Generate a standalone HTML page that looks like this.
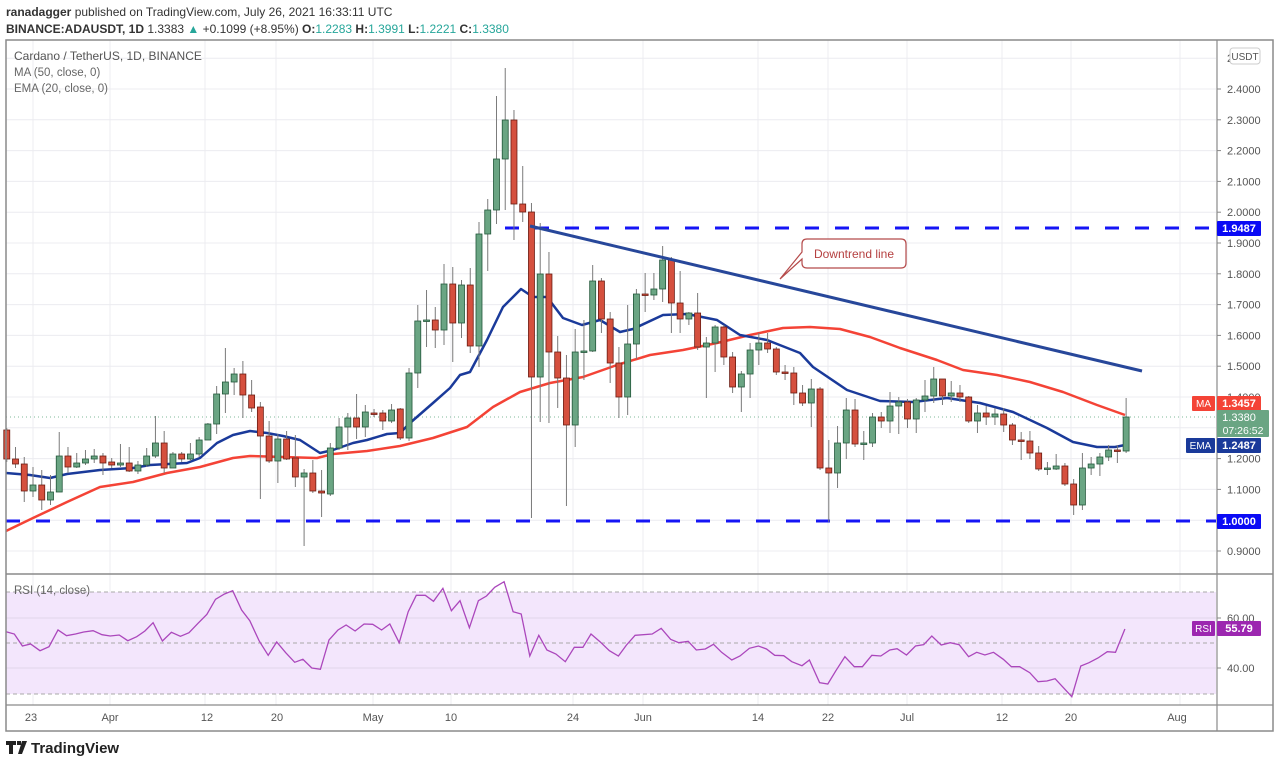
<!DOCTYPE html>
<html><head><meta charset="utf-8"><style>
body{margin:0;background:#fff;width:1280px;height:765px;overflow:hidden;font-family:"Liberation Sans",sans-serif}
svg{position:absolute;left:0;top:0}
</style></head><body>
<svg id="s" width="1280" height="765" xmlns="http://www.w3.org/2000/svg" font-family="Liberation Sans, sans-serif"></svg>
<script>
const C=[
[430,459,428,462],[459,464,447,468],[464,491,457,502],[491,485,467,497],[485,500,470,510],[500,492,475,505],[492,456,432,492],[456,467,447,473],[467,463,453,468],[463,459,450,465],[459,456,449,463],[456,463,453,475],[462,465,458,468],[465,463,444,467],[463,471,447,472],[471,465,461,474],[465,456,448,467],[456,443,416,458],[443,468,431,473],[468,454,452,468],[454,459,452,462],[459,454,443,461],[454,440,437,457],[440,424,423,440],[424,394,386,434],[394,382,348,413],[382,374,368,395],[374,395,361,418],[395,408,380,412],[407,436,402,499],[436,461,421,463],[461,439,434,483],[439,459,431,460],[458,477,435,487],[477,473,469,546],[473,491,460,493],[491,493,470,517],[494,448,443,496],[448,427,418,450],[427,418,413,450],[418,427,394,439],[427,412,405,437],[413,414,409,417],[413,421,410,430],[421,410,404,423],[409,438,408,440],[438,373,368,441],
[373,321,305,388],[321,320,290,347],[320,330,307,348],[330,284,264,345],[284,323,267,362],[323,285,280,338],[285,346,268,353],[346,234,222,367],[234,210,199,271],[210,159,96,224],[159,120,68,210],[120,204,110,240],[204,212,166,222],[212,377,203,518],[377,274,223,422],[274,352,252,423],[352,378,336,408],[378,425,355,506],[425,352,329,447],[352,351,320,380],[351,281,265,352],[281,319,278,333],[319,363,312,383],[363,397,347,418],[397,344,305,415],[344,294,289,359],[294,295,273,312],[295,289,273,300],[289,260,246,302],[260,303,257,333],[303,319,271,333],[319,313,312,325],[313,347,293,350],[347,343,337,398],[343,327,325,372],[327,357,325,365],[357,387,352,393],[387,374,371,412],[374,350,343,398],[350,343,333,365],[343,349,333,353],[349,372,347,375],[372,373,365,380],[373,393,367,405],
[393,403,385,406],[403,389,379,427],[389,468,387,470],[468,473,440,522],[473,443,426,488],[443,410,398,459],[410,444,399,447],[444,443,431,460],[443,417,413,447],[417,421,412,428],[421,406,392,433],[406,402,397,434],[402,419,399,428],[419,400,398,433],[400,396,380,412],[396,379,367,403],[379,396,379,405],[396,393,381,402],[393,397,385,402],[397,421,396,423],[421,413,405,433],[413,417,406,425],[417,414,408,425],[414,425,408,432],[425,440,423,445],[440,441,432,460],[441,453,431,459],[453,469,446,471],[469,468,462,475],[469,466,454,470],[466,484,463,486],[484,505,479,515],[505,468,453,510],[468,464,457,475],[464,457,453,476],[457,450,445,461],[450,451,445,463],[451,417,398,453]];
const X=i=>33+(i-3)*8.745;
let s='';
// grid
const vx=[33,110,205,276,373,451,573,643,758,828,907,1002,1071,1180];
for(const x of vx) s+=`<line x1="${x}" y1="40" x2="${x}" y2="705" stroke="#ececf0" stroke-width="1"/>`;
for(let k=0;k<17;k++){const y=58.2+30.8*k;if(y>572)break;s+=`<line x1="6" y1="${y}" x2="1216" y2="${y}" stroke="#ececf0"/>`;}
// RSI band
s+=`<rect x="6" y="592" width="1210" height="102" fill="#f3e6fc"/>`;
s+=`<line x1="6" y1="618" x2="1216" y2="618" stroke="#e2d6ea"/><line x1="6" y1="668" x2="1216" y2="668" stroke="#e2d6ea"/>`;
for(const y of [592,643,694]) s+=`<line x1="6" y1="${y}" x2="1216" y2="${y}" stroke="#a8a8a8" stroke-dasharray="4 3"/>`;
// dashed levels
s+=`<line x1="505" y1="228" x2="1216" y2="228" stroke="#1515f5" stroke-width="3" stroke-dasharray="14 16"/>`;
s+=`<line x1="6" y1="521" x2="1216" y2="521" stroke="#1515f5" stroke-width="3" stroke-dasharray="14 16"/>`;
// last price dotted
s+=`<line x1="6" y1="417" x2="1216" y2="417" stroke="#7fb89a" stroke-dasharray="1 3"/>`;
// MA line
const ma=[[6,531],[33,518],[50,510],[67,502],[100,487],[133,482],[167,473],[200,467],[233,458],[250,456],[283,457],[317,458],[333,454],[367,451],[400,446],[433,438],[467,427],[493,407],[520,392],[550,383],[583,377],[617,365],[650,355],[683,350],[717,343],[750,335],[783,328],[810,327],[840,329],[870,337],[900,348],[937,360],[963,370],[997,375],[1030,382],[1063,392],[1097,405],[1125,415]];
s+=`<polyline points="${ma.map(p=>p.join(',')).join(' ')}" fill="none" stroke="#f44336" stroke-width="2.5" stroke-linejoin="round"/>`;
const ema=[[6,473],[30,475],[50,478],[67,474],[100,470],[133,468],[150,465],[187,463],[200,458],[217,443],[233,435],[250,431],[267,433],[283,436],[300,440],[320,453],[333,450],[353,443],[367,440],[387,434],[400,433],[410,423],[433,403],[450,388],[460,375],[470,372],[487,340],[503,307],[521,289],[533,297],[547,297],[563,318],[582,325],[600,320],[620,332],[633,329],[663,315],[687,314],[717,320],[740,335],[767,340],[800,353],[813,367],[847,390],[880,401],[913,402],[947,398],[980,403],[1013,412],[1047,428],[1073,442],[1097,447],[1115,447],[1125,445]];
s+=`<polyline points="${ema.map(p=>p.join(',')).join(' ')}" fill="none" stroke="#1a3a9a" stroke-width="2.5" stroke-linejoin="round"/>`;
// candles
C.forEach((c,i)=>{const x=X(i);const[o,cl,h,l]=c;const up=cl<=o;
s+=`<line x1="${x}" y1="${h}" x2="${x}" y2="${l}" stroke="#7a7a7a"/>`;
const t=Math.min(o,cl),b=Math.max(Math.abs(o-cl),1.5);
s+=`<rect x="${x-3}" y="${t}" width="6" height="${b}" fill="${up?'#6aa583':'#d5503e'}" stroke="${up?'#22573a':'#6b1c12'}" stroke-width="0.8"/>`;});
// downtrend
s+=`<line x1="530" y1="226" x2="1142" y2="371" stroke="#27479a" stroke-width="3"/>`;
// annotation
s+=`<path d="M807 239 H901 Q906 239 906 244 V263 Q906 268 901 268 H807 Q802 268 802 263 V259 L780 279 L802 252 V244 Q802 239 807 239Z" fill="#fff" stroke="#b54a4a" stroke-width="1.2"/>`;
s+=`<text x="854" y="258" font-size="12" fill="#b54040" text-anchor="middle">Downtrend line</text>`;
// RSI line
const r6=[[15,185],[35,192],[55,228],[75,222],[98,242],[120,230],[142,180],[163,197],[185,192],[205,186],[228,182],[250,194],[270,198],[292,195],[313,212],[335,200],[355,183],[375,158],[398,213],[420,187],[442,199],[463,188],[485,160],[507,133],[528,88],[550,72],[570,62],[592,120],[612,152],[635,213],[657,256],[678,216],[700,248],[722,277],[742,268],[764,294],[785,298],[806,210],[828,180],[848,165],[870,183],[892,162],[913,163],[935,180],[955,162],[978,218],[1000,125],[1020,76],[1042,76],[1062,94],[1085,55],[1106,122],[1127,92],[1150,173],[1172,92],[1192,78],[1212,52],[1235,35],[1257,125],[1277,132],[1298,258],[1320,196],[1340,240],[1362,252],[1385,275],[1407,232],[1428,232],[1448,192],[1470,215],[1493,242],[1515,258],[1535,225],[1556,196]];
const r7=[[30,192],[52,175],[75,208],[95,218],[118,214],[138,240],[160,237],[180,223],[200,247],[225,270],[245,258],[268,235],[290,228],[310,237],[330,256],[352,257],[372,275],[397,287],[415,270],[440,338],[460,342],[480,302],[502,260],[525,290],[545,290],[568,256],[590,258],[612,240],[630,236],[653,255],[675,228],[695,224],[715,198],[738,225],[760,218],[782,224],[805,260],[825,247],[845,255],[866,247],[890,268],[910,290],[930,290],[955,308],[975,335],[997,333],[1017,326],[1058,380],[1080,288],[1100,278],[1122,264],[1145,245],[1165,247],[1188,177]];
const rp=r6.map(p=>[p[0]/2.45,570+p[1]/3]).concat(r7.map(p=>[640+p[0]/2.45,570+p[1]/3]));
s+=`<polyline points="${rp.map(p=>p[0].toFixed(1)+','+p[1].toFixed(1)).join(' ')}" fill="none" stroke="#ab47bc" stroke-width="1.3"/>`;
// frame
s+=`<rect x="6" y="40" width="1267" height="691" fill="none" stroke="#8a8a8a" stroke-width="1.5"/>`;
s+=`<line x1="1217" y1="40" x2="1217" y2="731" stroke="#8a8a8a" stroke-width="1.2"/>`;
s+=`<line x1="6" y1="574" x2="1273" y2="574" stroke="#8a8a8a" stroke-width="1.5"/>`;
s+=`<line x1="6" y1="705" x2="1273" y2="705" stroke="#8a8a8a" stroke-width="1.2"/>`;
// price axis
for(let k=1;k<17;k++){const p=2.5-0.1*k,y=58.2+30.8*k;if(y>560)break;s+=`<line x1="1217" y1="${y}" x2="1221" y2="${y}" stroke="#888"/><text x="1227" y="${y+4}" font-size="11" fill="#555">${p.toFixed(4)}</text>`;}
s+=`<text x="1227" y="62" font-size="11" fill="#555">2</text><rect x="1230" y="48" width="30" height="16" rx="3" fill="#fff" stroke="#ccc"/><text x="1245" y="60" font-size="10" fill="#555" text-anchor="middle">USDT</text>`;
for(const [y,t] of [[618,'60.00'],[668,'40.00']]) s+=`<line x1="1217" y1="${y}" x2="1221" y2="${y}" stroke="#888"/><text x="1227" y="${y+4}" font-size="11" fill="#555">${t}</text>`;
function lab(y,h,bg,t,name,nx){let r=`<rect x="1217" y="${y}" width="44" height="${h}" rx="1" fill="${bg}"/><text x="1239" y="${y+11}" font-size="11" font-weight="bold" fill="#fff" text-anchor="middle">${t}</text>`;if(name)r+=`<rect x="${nx}" y="${y}" width="${1215-nx}" height="${h}" rx="1" fill="${bg}"/><text x="${(nx+1215)/2}" y="${y+11}" font-size="10" fill="#fff" text-anchor="middle">${name}</text>`;return r;}
s+=lab(221,15,'#0a0af5','1.9487');
s+=lab(396,15,'#f44336','1.3457','MA',1192);
s+=`<rect x="1217" y="410" width="52" height="27" rx="1" fill="#6aa583"/><text x="1239" y="421" font-size="11" fill="#fff" text-anchor="middle">1.3380</text><text x="1243" y="434" font-size="10.5" fill="#fff" text-anchor="middle">07:26:52</text>`;
s+=lab(438,15,'#1a3a9a','1.2487','EMA',1186);
s+=lab(514,15,'#0a0af5','1.0000');
s+=lab(621,15,'#9c27b0','55.79','RSI',1192);
// time axis
const tl=[[31,'23'],[110,'Apr'],[207,'12'],[277,'20'],[373,'May'],[451,'10'],[573,'24'],[643,'Jun'],[758,'14'],[828,'22'],[907,'Jul'],[1002,'12'],[1071,'20'],[1177,'Aug']];
for(const [x,t] of tl) s+=`<text x="${x}" y="721" font-size="11" fill="#555" text-anchor="middle">${t}</text>`;
// legends
s+=`<text x="14" y="60" font-size="12" fill="#555">Cardano / TetherUS, 1D, BINANCE</text><text x="14" y="76" font-size="11.5" fill="#666">MA (50, close, 0)</text><text x="14" y="92" font-size="11.5" fill="#666">EMA (20, close, 0)</text>`;
s+=`<text x="14" y="594" font-size="11.5" fill="#666">RSI (14, close)</text>`;
// header
s+=`<text x="6" y="16" font-size="12" fill="#333"><tspan font-weight="bold">ranadagger</tspan> published on TradingView.com, July 26, 2021 16:33:11 UTC</text>`;
s+=`<text x="6" y="33" font-size="12" fill="#333"><tspan font-weight="bold">BINANCE:ADAUSDT, 1D</tspan>  1.3383 <tspan fill="#26a69a">▲</tspan> +0.1099 (+8.95%) <tspan font-weight="bold">O:</tspan><tspan fill="#26a69a">1.2283</tspan> <tspan font-weight="bold">H:</tspan><tspan fill="#26a69a">1.3991</tspan> <tspan font-weight="bold">L:</tspan><tspan fill="#26a69a">1.2221</tspan> <tspan font-weight="bold">C:</tspan><tspan fill="#26a69a">1.3380</tspan></text>`;
// logo
s+=`<path d="M6 741 h10 v4 h-3 v9 h-4 v-9 h-3z M17 741 h4 v4 h-4z M22 741 h5 l-5 13 h-4z" fill="#222"/><text x="31" y="753" font-size="15" font-weight="bold" fill="#222">TradingView</text>`;
document.getElementById('s').innerHTML=s;
</script>
</body></html>
